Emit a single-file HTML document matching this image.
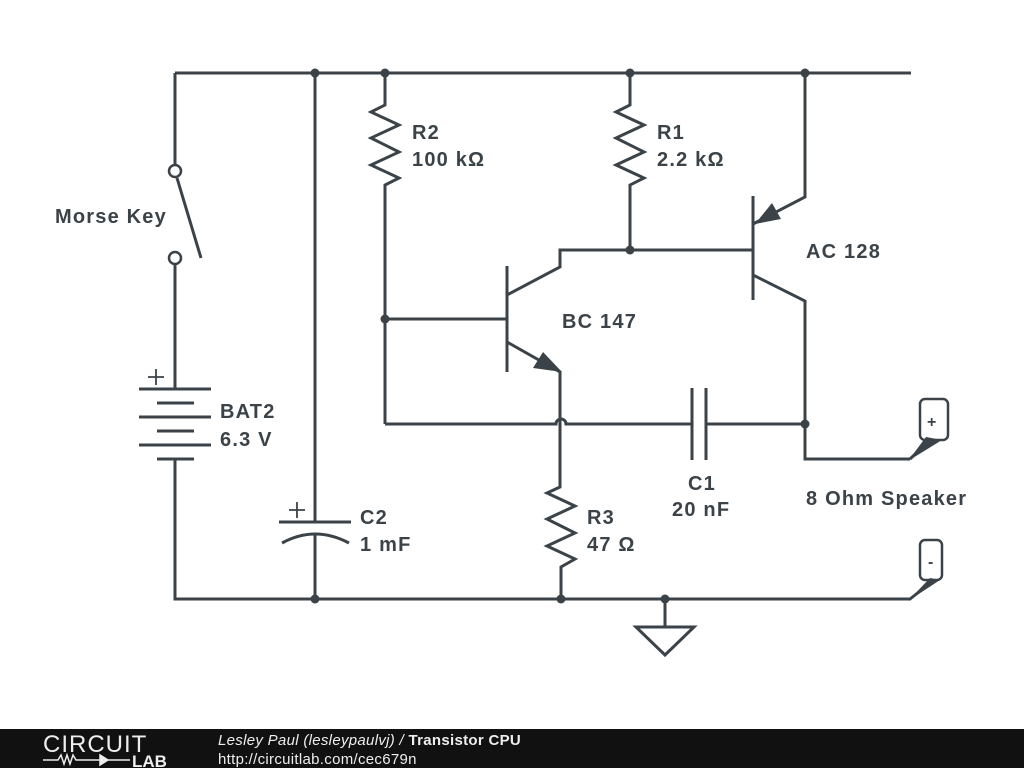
<!DOCTYPE html>
<html><head><meta charset="utf-8"><style>
html,body{margin:0;padding:0;background:#fff;}
svg{display:block}
text{font-family:"Liberation Sans",sans-serif;font-weight:bold;font-size:20px;letter-spacing:1.2px;fill:#3b4348}
</style></head><body>
<svg width="1024" height="768" viewBox="0 0 1024 768">
<g stroke="#3b4348" stroke-width="3" fill="none" stroke-linejoin="miter">
<path d="M175 73H911"/>
<path d="M175 73V165"/>
<circle cx="175" cy="171" r="6" stroke-width="2.5"/>
<circle cx="175" cy="258" r="6" stroke-width="2.5"/>
<path d="M177 178L201 258"/>
<path d="M175 264V388"/>
<path d="M139 389H211M157 403H194M139 417H211M157 431H194M139 445H211M157 459H194"/>
<path d="M148 377H164M156 369V385" stroke-width="1.8"/>
<path d="M175 459V599H911"/>
<path d="M315 73V522M279 522H351"/>
<path d="M282 543Q315 525 349 543"/>
<path d="M315 535V599"/>
<path d="M289 510H305M297 502V518" stroke-width="1.8"/>
<path d="M385 73V105L371 112L399 125L371 138L399 152L371 165L399 178L385 185V424"/>
<path d="M385 319H507"/>
<path d="M385 424H556A5 5 0 0 1 566 424H692M706 424H805"/>
<path d="M692 388V460M706 388V460"/>
<path d="M507 266V372"/>
<path d="M507 295L560 267V250H753"/>
<path d="M507 342L560 372V487L547 493L575 506L547 519L575 533L547 546L575 559L561 567V599"/>
<path d="M630 73V105L616 112L644 125L616 138L644 152L616 165L644 178L630 185V250"/>
<path d="M753 196V300"/>
<path d="M753 224L805 197V73"/>
<path d="M753 275L805 301V459H910"/>
<rect x="920" y="399" width="28" height="41" rx="5" stroke-width="2.5"/>
<rect x="920" y="540" width="22" height="40" rx="5" stroke-width="2.5"/>
<path d="M910 459L930 440"/>
<path d="M910 599L934 580"/>
<path d="M665 599V626M636 627H694L665 655Z"/>
</g>
<g fill="#3b4348">
<circle cx="315" cy="73" r="4.5"/><circle cx="385" cy="73" r="4.5"/><circle cx="630" cy="73" r="4.5"/><circle cx="805" cy="73" r="4.5"/>
<circle cx="385" cy="319" r="4.5"/><circle cx="630" cy="250" r="4.5"/><circle cx="805" cy="424" r="4.5"/>
<circle cx="315" cy="599" r="4.5"/><circle cx="561" cy="599" r="4.5"/><circle cx="665" cy="599" r="4.5"/>
<path d="M562 372L533 368L543 352Z"/>
<path d="M755 224L772 203L781 219Z"/>
<path d="M908 461L926 437L942 440Z"/>
<path d="M908 601L930 578L940 580Z"/>
</g>
<text x="412" y="139">R2</text><text x="412" y="166">100 kΩ</text>
<text x="657" y="139">R1</text><text x="657" y="166">2.2 kΩ</text>
<text x="55" y="223">Morse Key</text>
<text x="220" y="418">BAT2</text><text x="220" y="446">6.3 V</text>
<text x="360" y="524">C2</text><text x="360" y="551">1 mF</text>
<text x="562" y="328">BC 147</text>
<text x="806" y="258">AC 128</text>
<text x="688" y="490">C1</text><text x="672" y="516">20 nF</text>
<text x="587" y="524">R3</text><text x="587" y="551">47 Ω</text>
<text x="806" y="505">8 Ohm Speaker</text>
<text x="927" y="427" style="font-size:16px;letter-spacing:0">+</text>
<text x="928" y="567" style="font-size:16px;letter-spacing:0">-</text>
<rect x="0" y="729" width="1024" height="39" fill="#111"/>
<text x="43" y="752" style="font-weight:normal;font-size:24px;fill:#eee;letter-spacing:1px">CIRCUIT</text>
<path d="M43 760H58L61 755L64 764L67 755L70 764L73 755L76 760H90" stroke="#eee" stroke-width="1.5" fill="none"/>
<path d="M90 760H130M100 755V765L108 760Z" stroke="#eee" stroke-width="1.5" fill="#eee"/>
<text x="132" y="767" style="font-size:17px;fill:#eee;letter-spacing:0">LAB</text>
<text x="218" y="745" style="font-weight:normal;font-style:italic;font-size:15px;fill:#eee;letter-spacing:0.3px">Lesley Paul (lesleypaulvj) / <tspan style="font-style:normal;font-weight:bold">Transistor CPU</tspan></text>
<text x="218" y="764" style="font-weight:normal;font-size:15px;fill:#eee;letter-spacing:0.3px">http://circuitlab.com/cec679n</text>
</svg>
</body></html>
